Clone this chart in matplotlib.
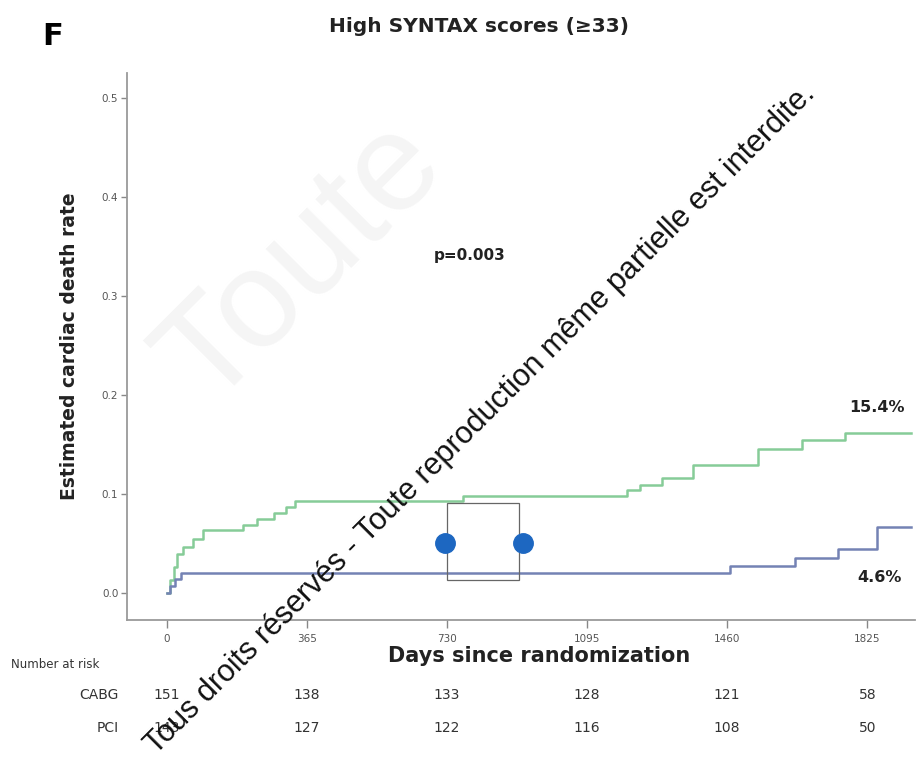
import matplotlib
matplotlib.use("Agg")
import matplotlib.pyplot as plt
from matplotlib.patches import Rectangle

# -----------------------
# Data
# -----------------------
green_days = [0, 8, 18, 28, 42, 68, 94, 200, 235, 280, 310, 335, 772,
              1200, 1233, 1290, 1371, 1541, 1655, 1768, 1940]
green_rate = [0.0, 0.013, 0.026, 0.040, 0.047, 0.055, 0.064, 0.069, 0.075,
              0.081, 0.087, 0.093, 0.098, 0.104, 0.109, 0.116, 0.129,
              0.146, 0.155, 0.162, 0.162]

blue_days = [0, 10, 22, 38, 1468, 1637, 1749, 1851, 1940]
blue_rate = [0.0, 0.007, 0.014, 0.020, 0.027, 0.036, 0.045, 0.067, 0.067]

tick_days = [0, 365, 730, 1095, 1460, 1825]
y_ticks = [0.0, 0.1, 0.2, 0.3, 0.4, 0.5]

risk_groups = ["CABG", "PCI"]
risk_cabg = [151, 138, 133, 128, 121, 58]
risk_pci = [143, 127, 122, 116, 108, 50]

end_labels = ["15.4%", "4.6%"]
p_label = "p=0.003"

# overlay box + two dots that sit on the original picture
overlay_box_days = [730, 918]
overlay_box_rate = [0.013, 0.091]
overlay_dot_days = [725, 928]
overlay_dot_rate = [0.051, 0.051]

GREEN = "#86cc98"
BLUE = "#7482b4"
DOT = "#1d67c1"
GREY = "#555555"
INK = "#222222"

fig = plt.figure(figsize=(9.18, 7.72), dpi=100)

# faint background watermark
fig.text(0.33, 0.66, "Toute", fontsize=100, color="#f5f5f5", rotation=45,
         ha="center", va="center", family="Liberation Sans", zorder=0)

ax = fig.add_axes([0.138, 0.197, 0.859, 0.708])
ax.patch.set_alpha(0)

ax.step(green_days, green_rate, where="post", color=GREEN, lw=1.8)
ax.step(blue_days, blue_rate, where="post", color=BLUE, lw=1.8)

ax.add_patch(Rectangle((overlay_box_days[0], overlay_box_rate[0]),
                       overlay_box_days[1] - overlay_box_days[0],
                       overlay_box_rate[1] - overlay_box_rate[0],
                       fill=False, edgecolor="#666666", lw=0.9, zorder=3))
ax.plot(overlay_dot_days, overlay_dot_rate, "o", color=DOT, ms=14,
        linestyle="none", zorder=4)

ax.set_xlim(-104, 1950)
ax.set_ylim(-0.027, 0.525)
ax.set_xticks(tick_days)
ax.set_yticks(y_ticks)
ax.set_yticklabels([f"{v:.1f}" for v in y_ticks])

for side in ("top", "right"):
    ax.spines[side].set_visible(False)
for side in ("left", "bottom"):
    ax.spines[side].set_color("#9a9a9a")
    ax.spines[side].set_linewidth(1.3)

ax.tick_params(axis="both", direction="out", colors="#888888",
               labelcolor=GREY, labelsize=7.5, width=1.0)
ax.tick_params(axis="y", length=4, pad=2)
ax.tick_params(axis="x", length=6, pad=4)

ax.set_ylabel("Estimated cardiac death rate", fontsize=13.5,
              fontweight="bold", color=INK)
ax.yaxis.set_label_coords(-0.06, 0.5)

ax.text(790, 0.341, p_label, fontsize=11, fontweight="bold",
        ha="center", va="center", color=INK)
ax.text(1850, 0.188, end_labels[0], fontsize=11.5, fontweight="bold",
        ha="center", va="center", color=INK)
ax.text(1858, 0.016, end_labels[1], fontsize=11.5, fontweight="bold",
        ha="center", va="center", color=INK)

# title + panel letter
fig.text(0.522, 0.966, "High SYNTAX scores (\u226533)", fontsize=14.5,
         fontweight="bold", ha="center", va="center", color=INK)
fig.text(0.057, 0.953, "F", fontsize=22, fontweight="bold",
         ha="center", va="center")

# x label + number at risk table
xt = ax.get_xaxis_transform()
ax.text(0.523, -0.066, "Days since randomization", transform=ax.transAxes,
        fontsize=15, fontweight="bold", ha="center", va="center",
        color=INK)
fig.text(0.012, 0.139, "Number at risk", fontsize=8.5, ha="left",
         va="center", color="#333333")
row_y = [-0.137, -0.197]
for grp, counts, yy in zip(risk_groups, [risk_cabg, risk_pci], row_y):
    ax.text(-125, yy, grp, transform=xt, fontsize=10, ha="right",
            va="center", color="#333333", clip_on=False)
    for d, n in zip(tick_days, counts):
        ax.text(d, yy, str(n), transform=xt, fontsize=10, ha="center",
                va="center", color="#333333", clip_on=False)

# diagonal copyright watermark
fig.text(0.523, 0.457,
         "Tous droits réservés - Toute reproduction même partielle est interdite.",
         fontsize=22, rotation=45, ha="center", va="center",
         family="Liberation Sans", color="#111111", zorder=10)

fig.savefig("out.png", dpi=100)
